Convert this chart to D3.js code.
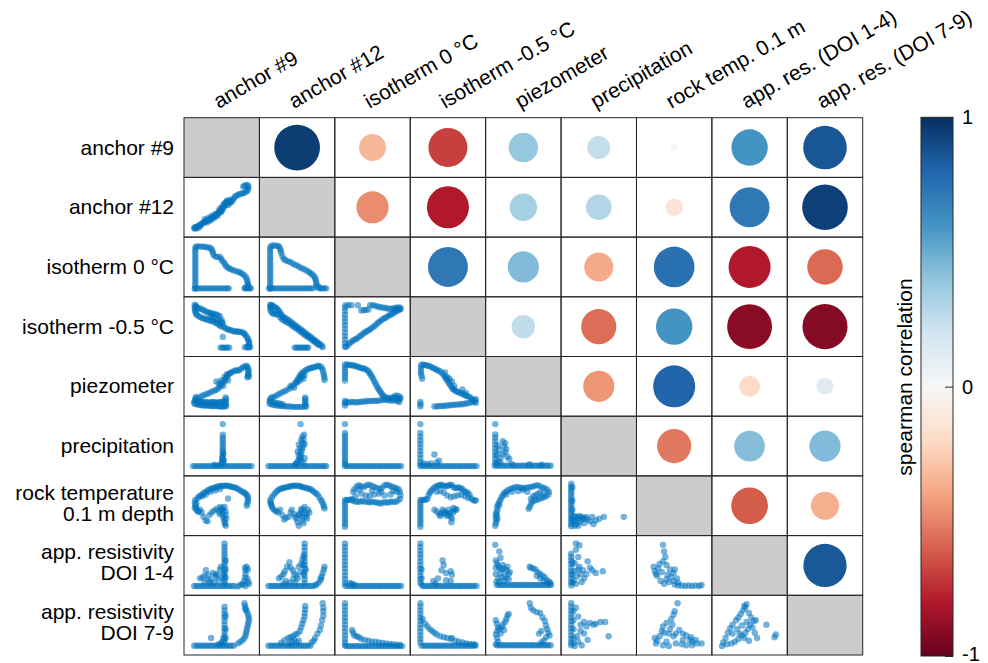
<!DOCTYPE html>
<html>
<head>
<meta charset="utf-8">
<script src="https://cdn.jsdelivr.net/npm/d3@7"></script>
<style>
  body { margin: 0; background: #ffffff; }
  text { font-family: "Liberation Sans", Arial, Helvetica, sans-serif; fill: #000; }
</style>
</head>
<body>
<svg id="chart" width="988" height="663"></svg>
<script>
// ---- labels ----
const rowLabels = [
  ["anchor #9"], ["anchor #12"], ["isotherm 0 °C"], ["isotherm -0.5 °C"], ["piezometer"],
  ["precipitation"], ["rock temperature", "0.1 m depth"],
  ["app. resistivity", "DOI 1-4"], ["app. resistivity", "DOI 7-9"]
];
const colLabels = [
  "anchor #9", "anchor #12", "isotherm 0 °C", "isotherm -0.5 °C", "piezometer",
  "precipitation", "rock temp. 0.1 m", "app. res. (DOI 1-4)", "app. res. (DOI 7-9)"
];

// ---- spearman correlations, upper triangle (row i, columns i+1..8) ----
const corrRow0 = [0.95, -0.33, -0.69, 0.39, 0.24, -0.02, 0.60, 0.86];
const corrRow1 = [-0.47, -0.80, 0.34, 0.30, -0.14, 0.72, 0.94];
const corrRow2 = [0.72, 0.44, -0.38, 0.75, -0.80, -0.57];
const corrRow3 = [0.25, -0.56, 0.60, -0.91, -0.92];
const corrRow4 = [-0.44, 0.80, -0.20, 0.13];
const corrRow5 = [-0.53, 0.43, 0.44];
const corrRow6 = [-0.61, -0.36];
const corrRow7 = [0.85];
const corrRows = [corrRow0, corrRow1, corrRow2, corrRow3, corrRow4, corrRow5, corrRow6, corrRow7];

const colorbarTicks = [-1, 0, 1];
const rdbuColors = ["#67001f", "#b2182b", "#d6604d", "#f4a582", "#fddbc7", "#f7f7f7",
                    "#d1e5f0", "#92c5de", "#4393c3", "#2166ac", "#053061"];

// ---- pairwise samples (x = column variable, y = row variable), scaled 0..100 ----
const pts_1_0 = [3,1,5,3,7,5,4,4,9,7,11,9,13,10,15,12,17,14,19,15,21,17,23,18,25,20,27,21,29,22,31,24,33,26,35,28,37,29,39,31,41,33,43,35,45,37,47,40,49,44,50,48,51,52,53,56,55,58,57,60,59,61,61,62,63,61,65,60,67,63,69,67,71,71,73,74,76,76,79,78,82,79,85,80,88,81,91,84,93,86,94,90,95,94,94,98,91,99,88,97,86,95,20,22,26,25,32,30,38,34,44,40,48,38,42,30,36,24,30,19,24,15,52,48,54,52,56,54,50,42,46,46,58,64,62,58,64,66,60,54,12,6,8,2,2,3];
const pts_2_0 = [4,0,4,6,4,12,4,18,4,24,4,30,4,36,4,42,4,48,4,54,4,60,4,66,4,72,4,78,4,84,4,90,5,94,8,95,12,95,16,94,20,94,24,93,28,92,31,90,33,86,34,81,35,76,38,72,42,71,46,72,48,67,50,63,53,59,55,55,57,50,60,47,63,45,66,43,70,41,74,39,78,38,81,36,84,34,87,31,90,27,92,22,93,17,94,12,94,8,3,1,7,1,11,1,15,1,19,1,23,1,27,1,31,1,35,1,39,1,43,1,47,1,51,1,55,1,59,1,61,1,88,1,91,1,94,1,97,1,99,1,96,4,90,3];
const pts_2_1 = [3,0,3,6,3,12,3,18,3,24,3,30,3,36,3,42,3,48,3,54,3,60,3,66,3,72,3,78,3,84,3,90,4,95,7,97,11,97,15,96,18,95,20,90,21,85,22,80,24,73,26,67,29,64,33,62,37,60,41,57,45,54,49,52,53,49,57,46,61,44,65,41,69,38,72,35,75,32,78,28,80,24,81,19,82,14,82,9,83,4,1,1,5,1,9,1,13,1,17,1,21,1,25,1,29,1,33,1,37,1,41,1,45,1,49,1,53,1,57,1,61,1,65,1,69,1,73,1,76,1,87,1,90,1,93,1,96,1,99,1,86,5];
const pts_3_0 = [3,98,5,96,4,93,7,92,10,90,13,89,16,87,19,85,22,83,25,81,28,80,31,79,34,78,37,77,40,76,43,74,46,72,3,90,4,86,4,82,5,78,7,75,10,72,13,70,16,68,19,67,22,66,25,64,28,63,31,62,34,61,37,59,40,57,43,54,46,52,48,49,30,72,33,70,36,66,40,64,44,62,47,60,50,58,49,64,51,55,53,48,56,45,59,43,62,42,65,41,68,39,71,38,74,38,77,38,80,37,83,37,86,35,88,33,90,30,92,26,94,22,95,18,96,14,96,10,96,6,95,3,47,2,50,2,53,2,56,2,59,2,62,2,89,3,92,3,95,3,98,3,51,26];
const pts_3_1 = [3,98,5,97,7,96,4,94,3,90,4,86,5,82,7,79,10,77,13,77,16,76,9,94,12,92,14,90,16,87,18,84,20,80,22,76,24,72,26,70,29,68,32,66,35,63,38,60,41,57,44,54,47,51,50,48,53,45,56,42,59,39,62,36,65,33,68,30,71,27,74,24,77,21,80,18,83,15,86,12,89,9,91,6,93,3,20,70,23,66,26,63,29,61,32,59,35,57,38,54,41,51,44,48,47,46,50,43,53,40,56,37,59,34,62,31,65,28,68,26,71,23,74,20,77,17,80,14,83,11,86,8,45,2,48,2,51,2,54,2,57,2,60,2,63,2,66,2,68,2];
const pts_3_2 = [2,4,2,12,2,20,2,28,2,36,2,44,2,52,2,60,2,68,2,76,2,84,2,92,3,97,8,97,13,97,24,97,30,85,34,86,38,86,42,87,45,97,49,97,53,96,57,94,61,93,65,92,69,91,73,90,77,89,81,89,85,90,89,91,93,92,97,91,95,88,91,88,87,86,4,4,7,8,10,12,13,15,16,18,19,20,22,22,25,25,28,28,31,31,34,34,37,37,40,39,43,41,46,44,49,47,52,50,55,53,58,57,61,60,64,63,67,66,70,68,73,70,76,73,79,75,82,77,85,79,88,82,91,84,94,86,97,88];
const pts_4_0 = [3,10,6,9,9,8,12,7,15,7,18,6,21,6,24,6,27,6,30,5,33,5,36,5,39,5,42,5,45,4,48,4,51,4,54,4,57,5,5,18,8,16,11,15,14,14,17,14,20,14,23,13,26,13,29,13,32,14,35,14,38,13,41,13,44,13,47,14,50,14,53,15,2,13,3,17,4,21,5,25,56,8,56,12,56,16,56,20,56,24,8,22,12,25,16,28,20,30,24,32,28,34,32,37,36,39,40,41,43,44,46,48,48,52,50,56,52,59,54,62,56,66,58,70,60,74,62,77,64,79,67,81,70,83,73,85,76,84,79,85,82,88,85,91,88,93,91,95,93,93,94,89,95,85,95,81,95,77,94,73,93,69,96,71,44,55,40,60,48,62,52,50,60,62,58,76,54,70];
const pts_4_1 = [2,10,6,8,10,7,14,6,18,6,22,5,26,5,30,4,34,4,38,4,42,3,46,3,50,3,54,3,58,3,62,3,65,4,4,14,8,13,12,12,16,11,20,10,24,9,2,16,3,20,5,24,63,8,63,12,63,16,63,20,63,24,8,24,12,27,16,30,20,33,24,36,28,38,32,41,36,44,40,48,43,52,46,56,48,60,50,64,52,68,54,72,56,76,58,79,61,82,64,85,67,87,70,89,73,90,76,91,79,92,82,93,85,95,88,94,91,91,93,86,94,80,95,74,96,68,96,63,50,58,54,62,56,68,58,72,60,66,62,74,44,46,38,50];
const pts_4_2 = [2,98,2,92,2,86,2,80,2,74,2,68,2,62,2,16,2,11,2,6,6,98,9,97,12,96,15,96,18,95,21,94,24,93,27,91,30,90,33,89,36,88,39,86,42,83,44,79,46,75,48,71,50,66,52,61,54,56,56,51,58,46,60,42,62,38,64,34,66,30,68,27,71,25,74,23,77,22,80,23,83,24,86,23,89,22,92,21,95,20,97,22,4,14,8,13,12,14,16,14,20,13,24,14,28,14,32,15,36,15,40,16,44,16,48,16,52,17,56,16,60,17,64,18,68,19,72,19,76,18,80,17,84,17,88,18,92,16,95,14,92,28,96,26,88,28];
const pts_4_3 = [3,96,3,90,3,84,3,78,4,72,5,66,2,14,2,9,2,4,6,98,9,97,12,96,15,95,18,94,21,92,24,90,27,88,30,86,33,84,36,82,39,78,42,74,44,70,46,66,48,62,50,58,52,54,54,50,56,46,58,43,60,41,62,39,65,37,68,35,71,34,74,32,77,30,80,28,83,27,86,25,89,22,92,19,95,18,97,20,26,4,30,4,34,5,38,5,42,5,46,6,50,6,54,7,58,7,62,8,66,8,70,9,74,9,78,10,82,11,86,12,90,14,94,14,97,12,48,70,52,66,56,60,60,50,44,80,74,42,80,34];
const pts_5_0 = [0,4,4,4,8,4,12,4,16,4,20,4,24,4,28,4,32,4,36,4,40,4,44,4,48,4,52,4,56,4,60,4,64,4,68,4,72,4,76,4,80,4,84,4,88,4,92,4,96,4,100,4,51,9,51,14,51,19,51,24,51,29,51,34,51,39,51,44,51,50,51,56,51,62,51,68,51,74,51,98,49,12,53,16,50,22,52,32,49,8,36,7,42,6];
const pts_5_1 = [0,4,4,4,8,4,12,4,16,4,20,4,24,4,28,4,32,4,36,4,40,4,44,4,48,4,52,4,56,4,60,4,64,4,68,4,72,4,76,4,80,4,84,4,88,4,92,4,96,4,99,4,48,10,50,14,52,18,54,22,56,26,55,32,57,38,58,44,60,50,58,56,56,62,58,70,61,74,60,64,62,54,54,44,50,36,52,28,56,16,60,12,62,22,46,8,52,52,55,98];
const pts_5_2 = [2,98,2,78,2,72,2,66,2,60,2,54,2,48,2,42,2,36,2,30,2,24,2,18,2,12,2,8,2,4,6,4,10,4,14,4,18,4,22,4,26,4,30,4,34,4,38,4,42,4,46,4,50,4,54,4,58,4,62,4,66,4,70,4,74,4,78,4,82,4,86,4,90,4,94,4,98,4];
const pts_5_3 = [2,98,2,78,2,70,2,62,2,54,2,46,2,38,2,30,2,22,2,14,2,8,26,30,34,16,30,12,20,10,8,10,14,8,2,4,6,4,10,4,14,4,18,4,22,4,26,4,30,4,34,4,38,4,42,4,46,4,50,4,54,4,58,4,62,4,66,4,70,4,74,4,78,4,82,4,86,4,90,4,94,4,98,4];
const pts_5_4 = [1,98,1,75,1,68,1,60,1,52,1,44,1,36,1,28,1,20,1,12,3,8,14,60,18,55,16,48,20,42,18,35,14,30,22,25,8,40,6,50,10,22,4,30,25,20,10,12,6,15,30,8,0,5,4,5,8,5,12,5,16,5,20,5,24,5,28,5,32,5,36,5,40,5,44,5,48,5,52,5,56,5,60,5,64,5,68,5,72,5,76,5,80,5,84,5,88,5,92,5,96,5,60,8,80,7];
const pts_6_0 = [4,62,3,56,4,50,5,45,6,40,8,37,10,35,3,44,6,54,8,66,10,69,13,72,16,75,19,78,22,80,25,83,28,85,31,87,34,88,37,89,40,91,43,92,46,93,49,93,52,93,55,94,58,94,61,93,64,92,67,91,70,90,73,89,76,87,79,85,82,82,85,80,88,78,90,76,92,73,94,69,94,64,94,59,93,54,92,49,16,70,22,74,30,80,38,83,46,86,12,40,15,34,18,24,22,16,25,14,28,28,32,34,36,38,40,42,44,36,46,30,48,40,50,32,52,24,53,18,54,12,55,8,56,4,50,44,54,46,56,36,56,28,57,20,52,38,46,46,60,65];
const pts_6_1 = [3,62,4,56,5,50,6,46,4,54,8,42,11,38,14,36,17,34,6,68,9,73,12,78,15,82,18,85,21,87,24,88,27,89,30,90,33,91,36,92,39,93,42,93,45,94,48,94,51,93,54,93,57,91,60,90,63,89,66,88,69,87,72,86,75,83,78,80,81,77,84,74,87,68,90,62,92,58,94,52,95,47,96,43,20,40,24,28,27,18,30,22,35,24,38,34,40,40,44,30,46,24,48,20,50,12,52,4,54,28,56,36,58,16,60,40,62,46,64,24,66,30,68,40,70,34,56,42,52,30,58,24,62,32,66,20,60,10];
const pts_6_2 = [2,62,2,56,2,50,2,44,2,38,2,32,2,26,2,20,2,14,2,8,2,2,5,62,8,62,11,62,14,64,16,80,18,86,22,92,26,95,30,92,34,90,38,94,42,96,46,95,50,92,54,90,58,88,62,86,66,90,70,95,74,96,78,94,82,92,86,90,90,88,94,86,96,80,97,72,16,60,20,58,24,58,28,58,32,60,36,58,40,58,44,56,48,58,52,57,56,56,60,55,64,54,68,57,72,56,76,56,80,58,84,58,88,57,92,60,96,64,20,70,30,76,38,72,44,70,52,74,60,76,70,72,80,74,90,80,26,84,48,82,64,80,84,82];
const pts_6_3 = [2,62,2,56,2,50,2,44,2,38,2,32,2,26,2,20,2,14,2,8,2,2,5,62,8,62,11,63,14,64,16,72,18,78,20,82,23,86,26,90,29,92,32,94,35,95,38,96,41,94,44,92,47,93,50,94,53,96,56,95,59,90,62,88,65,89,68,90,71,88,74,86,77,82,80,79,83,78,86,74,89,66,92,62,95,60,97,61,84,66,78,70,72,74,66,72,60,70,54,68,48,72,42,78,36,82,30,80,26,40,30,36,34,30,36,26,38,32,40,40,42,36,44,30,46,34,48,26,50,30,52,32,54,24,56,20,55,12,58,34,60,38,62,42,64,40,58,44,50,40];
const pts_6_4 = [1,4,2,10,3,16,2,22,4,28,3,34,5,40,4,46,6,52,8,58,10,62,2,30,5,20,8,50,12,68,14,72,16,77,19,80,22,83,26,86,30,88,34,90,38,91,42,90,46,89,50,88,54,89,58,90,62,91,66,92,70,94,74,95,78,92,82,89,86,88,90,85,93,80,92,74,88,70,84,68,80,66,76,64,72,62,68,60,64,58,62,52,60,46,58,42,62,64,66,70,70,72,74,76,78,78,84,76,56,80,48,84,40,82,30,80,20,74];
const pts_6_5 = [2,98,2,92,2,86,2,80,2,74,2,68,2,62,2,56,2,50,2,44,2,38,2,32,2,26,2,20,2,14,2,8,2,3,4,60,4,40,4,20,4,90,7,26,10,24,13,22,16,26,19,24,22,22,25,20,28,24,12,16,16,12,10,8,20,18,6,14,8,4,14,4,30,18,34,14,38,24,44,16,50,20,58,24,40,8,92,24,24,10];
const pts_7_0 = [2,3,6,3,10,3,14,3,18,3,22,3,26,3,30,3,34,3,38,3,42,3,46,3,50,3,54,3,58,3,62,3,66,3,70,3,54,98,54,90,54,83,54,76,54,69,54,62,54,55,54,48,54,41,54,34,54,27,54,20,54,13,54,8,56,60,56,40,56,22,52,30,12,20,16,22,20,26,22,38,26,28,30,18,34,32,38,28,40,24,44,16,46,40,48,46,30,10,20,12,36,12,42,30,26,16,50,20,76,2,80,4,84,8,88,14,89,22,90,30,90,38,89,44,92,46,94,40,93,20,94,12,86,6,90,3,96,8];
const pts_7_1 = [0,3,4,3,8,3,12,3,16,3,20,3,24,3,28,3,32,3,36,3,40,3,44,3,48,3,52,3,56,3,60,3,64,3,68,3,72,3,76,3,80,4,62,98,62,90,62,82,62,74,62,66,62,58,62,50,62,42,62,34,62,26,62,18,62,10,60,70,60,50,60,30,64,40,18,20,22,24,26,30,28,36,32,46,36,56,38,44,42,38,44,30,48,26,50,20,52,46,54,34,56,52,58,62,42,18,30,14,36,10,26,8,46,12,82,6,86,10,89,16,91,24,93,32,95,40,96,46,90,20];
const pts_7_2 = [2,98,2,90,2,82,2,74,2,66,2,58,2,50,2,42,2,34,2,26,2,18,2,10,2,4,10,10,14,8,18,6,6,3,10,3,14,3,18,3,22,3,26,3,30,3,34,3,38,3,42,3,46,3,50,3,54,3,58,3,62,3,66,3,70,3,74,3,78,3,82,3,86,3,90,3,94,3,98,3];
const pts_7_3 = [2,98,2,90,2,82,2,74,2,66,2,58,2,50,2,42,2,34,2,26,2,18,2,10,4,40,4,20,4,6,40,60,42,50,38,38,46,32,54,36,56,28,32,20,24,14,46,16,54,14,28,8,6,3,10,3,14,3,18,3,22,3,26,3,30,3,34,3,38,3,42,3,46,3,50,3,54,3,58,3,62,3,66,3,70,3,74,3,78,3,82,3,86,3,90,3,94,3,98,3];
const pts_7_4 = [1,95,8,80,10,66,2,60,4,54,6,48,8,44,12,40,16,42,20,38,24,30,18,26,12,22,6,20,2,30,14,50,22,46,26,34,3,12,8,12,16,14,24,18,2,44,10,32,20,20,4,5,8,5,12,5,16,5,20,5,24,5,28,5,32,5,36,5,40,5,44,5,48,5,52,5,56,5,60,5,64,5,68,5,72,5,76,5,80,5,84,5,88,5,92,5,96,5,60,46,62,44,66,42,70,40,74,34,78,30,82,26,86,22,90,16,94,12,96,8,92,10,84,14,78,20,72,26];
const pts_7_5 = [2,75,2,68,2,60,2,52,2,44,2,36,2,28,2,20,2,12,2,4,4,56,4,30,4,10,10,98,16,94,10,84,14,68,8,54,16,46,22,38,30,58,34,44,38,38,44,32,56,36,12,24,18,30,24,20,6,16,10,8,20,12,8,36,14,40,28,30];
const pts_7_6 = [30,95,32,80,34,68,14,46,24,52,30,58,36,50,42,40,48,32,50,40,16,36,20,26,18,30,26,14,36,18,44,24,28,34,38,28,22,42,40,12,32,8,48,14,54,20,50,6,56,4,62,4,68,3,74,4,80,3,86,4,92,3,96,5,56,10];
const pts_8_0 = [2,3,6,3,10,3,14,3,18,3,22,3,26,3,30,3,34,3,38,3,42,3,46,3,50,3,54,3,58,3,62,3,66,3,70,3,54,90,54,82,54,74,54,66,54,58,54,50,54,42,54,34,54,26,54,18,54,10,56,70,56,40,56,20,52,20,50,12,48,8,44,6,31,20,88,98,89,92,90,86,92,80,94,74,95,68,96,62,95,56,94,50,93,44,92,38,91,32,90,26,88,20,85,15,81,12,77,8,90,84];
const pts_8_1 = [0,3,4,3,8,3,12,3,16,3,20,3,24,3,28,3,32,3,36,3,40,3,44,3,48,3,52,3,56,3,60,3,64,3,68,3,72,3,22,10,28,16,34,20,38,22,42,24,46,28,50,30,54,36,56,44,58,52,60,60,62,68,62,76,63,84,63,92,52,14,48,10,44,16,40,12,36,8,93,98,94,88,94,80,94,70,92,60,90,48,88,38,84,30,80,20,78,14,74,10];
const pts_8_2 = [2,98,2,90,2,82,2,74,2,66,2,58,2,50,2,42,2,34,2,26,2,18,2,10,2,4,14,38,16,32,18,26,22,24,26,22,30,18,36,16,42,14,48,12,54,12,60,10,66,9,72,8,78,7,84,6,90,5,96,5,4,2,8,2,12,2,16,2,20,2,24,2,28,2,32,2,36,2,40,2,44,2,48,2,52,2,56,2,60,2,64,2,68,2,72,2,76,2,80,2,84,2,88,2,92,2,96,2,100,2];
const pts_8_3 = [2,98,2,90,2,82,2,74,2,66,2,58,2,50,2,42,2,34,2,26,2,18,2,10,6,62,10,52,14,46,18,40,22,36,26,32,30,28,36,24,42,22,48,20,54,18,56,20,62,14,68,12,74,10,80,8,86,7,92,6,96,5,4,3,8,3,12,3,16,3,20,3,24,3,28,3,32,3,36,3,40,3,44,3,48,3,52,3,56,3,60,3,64,3,68,3,72,3,76,3,80,3,84,3,88,3,92,3,96,3];
const pts_8_4 = [2,60,4,52,6,44,8,40,12,44,14,50,18,56,20,62,22,70,24,74,4,36,2,28,4,20,6,12,2,6,10,30,16,38,4,4,8,4,12,4,16,4,20,4,24,4,28,4,32,4,36,4,40,4,44,4,48,4,52,4,56,4,60,4,64,4,68,4,72,4,76,4,80,4,84,4,88,4,92,4,96,4,60,98,62,88,66,82,72,78,78,76,82,66,86,58,88,48,90,40,92,32,94,26,88,22,84,14,80,10,76,30,80,36];
const pts_8_5 = [2,98,2,90,2,82,2,74,2,66,2,58,2,50,2,42,2,34,2,26,2,18,2,10,2,4,6,80,6,60,6,40,6,20,6,8,10,88,14,68,18,50,24,56,28,46,34,54,40,50,44,52,52,56,60,56,66,24,30,16,24,30,18,36,12,24,14,12,20,4,8,2];
const pts_8_6 = [55,98,50,80,48,72,44,62,36,54,30,46,32,32,24,24,16,20,18,8,30,4,40,2,48,24,52,30,58,38,64,30,70,26,76,16,80,12,88,8,96,8,86,16,78,22,64,16,52,8,36,12,42,40,46,50,40,30,28,36,62,6,70,4,80,4,20,14];
const pts_8_7 = [2,2,4,10,8,20,12,32,16,42,20,50,26,60,30,66,34,74,38,82,42,88,44,96,40,92,48,76,52,66,56,58,60,60,50,50,46,40,42,32,36,26,30,18,24,12,18,8,10,6,28,40,36,48,44,56,54,44,58,32,62,20,78,50,92,22,94,28,32,30,40,20,48,14,20,30];

// panels in the lower triangle: [row, column, samples]
const scatterPanels = [
  [1,0,pts_1_0],
  [2,0,pts_2_0],[2,1,pts_2_1],
  [3,0,pts_3_0],[3,1,pts_3_1],[3,2,pts_3_2],
  [4,0,pts_4_0],[4,1,pts_4_1],[4,2,pts_4_2],[4,3,pts_4_3],
  [5,0,pts_5_0],[5,1,pts_5_1],[5,2,pts_5_2],[5,3,pts_5_3],[5,4,pts_5_4],
  [6,0,pts_6_0],[6,1,pts_6_1],[6,2,pts_6_2],[6,3,pts_6_3],[6,4,pts_6_4],[6,5,pts_6_5],
  [7,0,pts_7_0],[7,1,pts_7_1],[7,2,pts_7_2],[7,3,pts_7_3],[7,4,pts_7_4],[7,5,pts_7_5],[7,6,pts_7_6],
  [8,0,pts_8_0],[8,1,pts_8_1],[8,2,pts_8_2],[8,3,pts_8_3],[8,4,pts_8_4],[8,5,pts_8_5],[8,6,pts_8_6],[8,7,pts_8_7]
];

// ---- layout ----
const n = 9;
const gridLeft = 184, gridRight = 862.7, gridTop = 117.7, gridBottom = 655;
const colPos = d3.scaleLinear().domain([0, n]).range([gridLeft, gridRight]);
const rowPos = d3.scaleLinear().domain([0, n]).range([gridTop, gridBottom]);
const cw = colPos(1) - colPos(0), ch = rowPos(1) - rowPos(0);

const color = d3.scaleLinear()
  .domain(rdbuColors.map((c, i) => -1 + i * 0.2))
  .range(rdbuColors)
  .interpolate(d3.interpolateRgb)
  .clamp(true);
const radius = d3.scaleSqrt().domain([0, 1]).range([0, 23.5]);

const svg = d3.select("#chart");

// cell backgrounds
const cells = [];
for (let i = 0; i < n; i++) for (let j = 0; j < n; j++) cells.push({ i, j });
svg.append("g").selectAll("rect").data(cells).join("rect")
  .attr("x", d => colPos(d.j)).attr("y", d => rowPos(d.i))
  .attr("width", cw).attr("height", ch)
  .attr("fill", d => d.i === d.j ? "#cccccc" : "#ffffff");

// correlation circles (upper triangle)
const circles = [];
corrRows.forEach((row, i) => row.forEach((r, k) => circles.push({ i, j: i + 1 + k, r })));
svg.append("g").selectAll("circle").data(circles).join("circle")
  .attr("cx", d => colPos(d.j + 0.5)).attr("cy", d => rowPos(d.i + 0.5))
  .attr("r", d => radius(Math.abs(d.r)))
  .attr("fill", d => color(d.r));

// scatter panels (lower triangle)
const scatterG = svg.append("g");
scatterPanels.forEach(([i, j, flat]) => {
  const x = d3.scaleLinear().domain([0, 100]).range([colPos(j) + 9, colPos(j + 1) - 8]);
  const y = d3.scaleLinear().domain([0, 100]).range([rowPos(i + 1) - 8, rowPos(i) + 7]);
  const pts = d3.range(0, flat.length, 2).map(k => [flat[k], flat[k + 1]]);
  scatterG.append("g").selectAll("circle").data(pts).join("circle")
    .attr("cx", d => x(d[0])).attr("cy", d => y(d[1]))
    .attr("r", 3.2)
    .attr("fill", "#0072bd").attr("fill-opacity", 0.55);
});

// cell borders
svg.append("g").selectAll("rect").data(cells).join("rect")
  .attr("x", d => colPos(d.j)).attr("y", d => rowPos(d.i))
  .attr("width", cw).attr("height", ch)
  .attr("fill", "none").attr("stroke", "#262626").attr("stroke-width", 1);

// row labels
const rowG = svg.append("g").attr("font-size", 21).attr("text-anchor", "end");
rowLabels.forEach((lines, i) => {
  const cy = rowPos(i + 0.5);
  const t = rowG.append("text").attr("x", 174);
  if (lines.length === 1) {
    t.append("tspan").attr("x", 174).attr("y", cy + 7).text(lines[0]);
  } else {
    t.append("tspan").attr("x", 174).attr("y", cy - 6).text(lines[0]);
    t.append("tspan").attr("x", 174).attr("y", cy + 15).text(lines[1]);
  }
});

// column labels, rotated
svg.append("g").attr("font-size", 21).selectAll("text").data(colLabels).join("text")
  .attr("transform", (d, j) => `translate(${colPos(j + 0.5) - 3},109) rotate(-30)`)
  .attr("text-anchor", "start")
  .text(d => d);

// colour bar
const cbX = 921, cbW = 32, cbTop = 117.3, cbBottom = 656;
const defs = svg.append("defs");
const grad = defs.append("linearGradient").attr("id", "rdbu")
  .attr("x1", 0).attr("y1", 1).attr("x2", 0).attr("y2", 0);
grad.selectAll("stop").data(rdbuColors).join("stop")
  .attr("offset", (d, i) => i / (rdbuColors.length - 1))
  .attr("stop-color", d => d);
svg.append("rect").attr("x", cbX).attr("y", cbTop).attr("width", cbW).attr("height", cbBottom - cbTop)
  .attr("fill", "url(#rdbu)").attr("stroke", "#262626").attr("stroke-width", 1);

const cbScale = d3.scaleLinear().domain([-1, 1]).range([cbBottom, cbTop]);
const cbAxis = d3.axisRight(cbScale).tickValues(colorbarTicks).tickSize(-8).tickPadding(9)
  .tickFormat(d => d === -1 ? "-1" : d3.format("d")(d));
const cbG = svg.append("g").attr("transform", `translate(${cbX + cbW},0)`).call(cbAxis);
cbG.select(".domain").remove();
cbG.selectAll(".tick line").attr("stroke", "#262626");
cbG.selectAll(".tick text").attr("font-size", 20)
  .attr("font-family", '"Liberation Sans", Arial, sans-serif').attr("fill", "#222");
// keep the lowest label inside the page
cbG.selectAll(".tick text").filter(d => d === -1).attr("dy", "0.2em");

svg.append("text")
  .attr("transform", "translate(912,377) rotate(-90)")
  .attr("text-anchor", "middle").attr("font-size", 21)
  .text("spearman correlation");
</script>
</body>
</html>
